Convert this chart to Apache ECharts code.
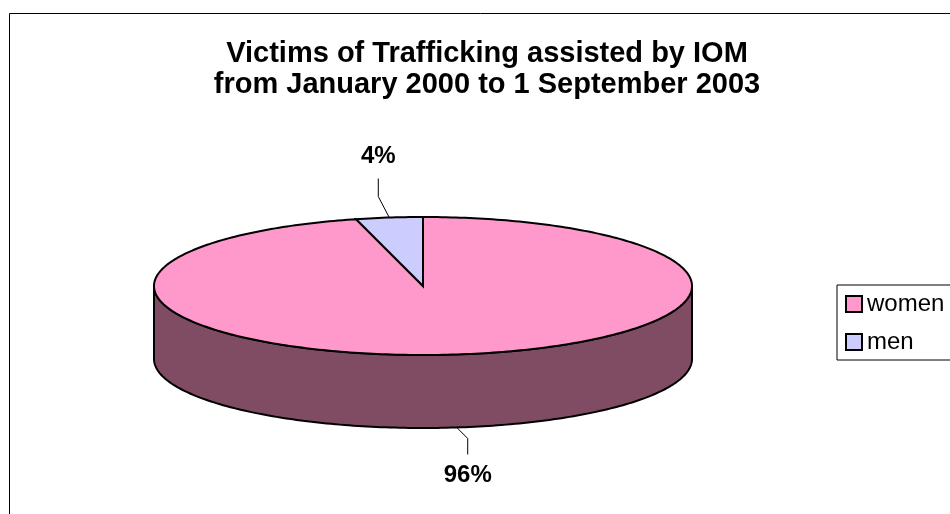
<!DOCTYPE html>
<html>
<head>
<meta charset="utf-8">
<script src="https://cdn.jsdelivr.net/npm/echarts@6/dist/echarts.min.js"></script>
<style>
html,body{margin:0;padding:0;background:#fff;}
#chart{width:950px;height:514px;}
</style>
</head>
<body>
<div id="chart"></div>
<script>
// ---- data ----
const categories = ['women', 'men'];
const values = [96, 4];
const topColors = ['#FF99CC', '#CCCCFF'];
const sideColors = ['#804C63', '#66667F'];
const titleLines = ['Victims of Trafficking assisted by IOM', 'from January 2000 to 1 September 2003'];

// ---- layout ----
const CX = 423, CY = 286, RX = 269, RY = 69, DEPTH = 73;
const FONT = '"Liberation Sans", Arial, sans-serif';

function pt(deg, dy) {
  const r = deg * Math.PI / 180;
  return [CX + RX * Math.sin(r), CY - RY * Math.cos(r) + (dy || 0)];
}
function arc(a0, a1, dy) {
  const pts = [];
  const n = Math.max(2, Math.ceil(Math.abs(a1 - a0)));
  for (let k = 0; k <= n; k++) pts.push(pt(a0 + (a1 - a0) * k / n, dy));
  return pts;
}
const total = values.reduce((s, v) => s + v, 0);

function makeRender(i) {
  return function (params, api) {
    const v = api.value(0);
    let start = 0;
    for (let j = 0; j < i; j++) start += values[j];
    const a0 = start / total * 360;
    const a1 = (start + v) / total * 360;
    const children = [];
    const s = Math.max(a0, 90), e = Math.min(a1, 270);
    if (e > s) {
      const topArc = arc(s, e, 0);
      const botArc = arc(e, s, DEPTH);
      children.push({
        type: 'polygon', shape: { points: topArc.concat(botArc) },
        style: { fill: sideColors[i], stroke: '#000', lineWidth: 2, lineJoin: 'round' }
      });
    }
    children.push({
      type: 'polygon', shape: { points: [[CX, CY]].concat(arc(a0, a1, 0)) },
      style: { fill: topColors[i], stroke: '#000', lineWidth: 2, lineJoin: 'miter' }
    });
    const mid = (a0 + a1) / 2;
    const front = Math.cos(mid * Math.PI / 180) < 0;
    const sx = Math.sin(mid * Math.PI / 180) >= 0 ? 1 : -1;
    let p0, p1, p2, tp;
    if (front) {
      p0 = pt(mid, DEPTH);
      p1 = [p0[0] + 11 * sx, p0[1] + 11];
      p2 = [p1[0], p1[1] + 16];
      tp = [p2[0], p2[1] + 21];
    } else {
      p0 = pt(mid, 0);
      p1 = [p0[0] + 11 * sx, p0[1] - 21];
      p2 = [p1[0], p1[1] - 18];
      tp = [p2[0], p2[1] - 22];
    }
    children.push({
      type: 'polyline', shape: { points: [p0, p1, p2] },
      style: { stroke: '#000', lineWidth: 1, fill: null }
    });
    children.push({
      type: 'text',
      style: {
        text: Math.round(v / total * 100) + '%', x: tp[0], y: tp[1],
        align: 'center', verticalAlign: 'middle',
        fontSize: 24, fontWeight: 'bold', fontFamily: FONT, fill: '#000'
      }
    });
    return { type: 'group', children: children };
  };
}

const chart = echarts.init(document.getElementById('chart'), null, { renderer: 'canvas' });
chart.setOption({
  animation: false,
  backgroundColor: '#fff',
  title: {
    text: titleLines.join('\n'),
    left: 487, top: 38, padding: 0, textAlign: 'center',
    textStyle: { fontSize: 29, fontWeight: 'bold', fontFamily: FONT, color: '#000', lineHeight: 31 }
  },
  legend: {
    left: 837, top: 285, orient: 'vertical',
    padding: [7, 16, 6, 8], itemGap: 14, itemWidth: 16, itemHeight: 16,
    borderColor: '#000', borderWidth: 1, backgroundColor: '#fff',
    icon: 'rect', data: categories,
    itemStyle: { borderColor: '#000', borderWidth: 2 },
    textStyle: { fontSize: 24, fontFamily: FONT, color: '#000' },
    selectedMode: false
  },
  graphic: [{
    type: 'rect', shape: { x: 9.5, y: 13.5, width: 1000, height: 600 },
    style: { fill: null, stroke: '#000', lineWidth: 1 }, silent: true, z: -10
  }],
  series: categories.map((name, i) => ({
    type: 'custom', name: name, coordinateSystem: 'none', silent: true,
    itemStyle: { color: topColors[i] },
    data: [[values[i]]],
    renderItem: makeRender(i)
  }))
});
</script>
</body>
</html>
